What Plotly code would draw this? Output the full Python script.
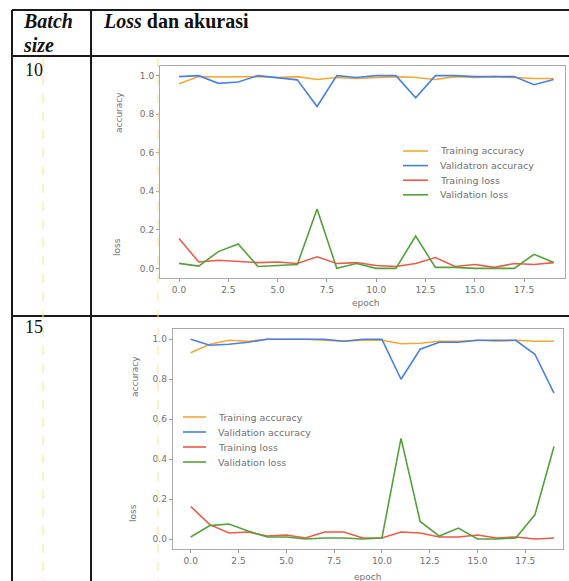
import plotly.graph_objects as go

W, H = 569, 581

epochs = list(range(20))

# Batch size 10
b10_train_acc = [0.958, 0.995, 0.993, 0.995, 0.995, 0.99, 0.995, 0.98, 0.99, 0.985,
                 0.99, 0.995, 0.99, 0.98, 0.995, 0.99, 0.995, 0.99, 0.985, 0.985]
b10_val_acc = [0.995, 1.0, 0.96, 0.967, 1.0, 0.99, 0.978, 0.84, 1.0, 0.99,
               1.0, 1.0, 0.885, 1.0, 1.0, 0.995, 0.995, 0.995, 0.953, 0.98]
b10_train_loss = [0.155, 0.033, 0.042, 0.035, 0.03, 0.033, 0.025, 0.06, 0.025, 0.03,
                  0.015, 0.01, 0.025, 0.056, 0.01, 0.02, 0.005, 0.025, 0.02, 0.03]
b10_val_loss = [0.026, 0.012, 0.087, 0.127, 0.01, 0.015, 0.02, 0.308, 0.0, 0.025,
                0.0, 0.0, 0.168, 0.005, 0.005, 0.0, 0.0, 0.0, 0.073, 0.03]

# Batch size 15
b15_train_acc = [0.933, 0.975, 0.995, 0.99, 1.0, 1.0, 1.0, 0.995, 0.99, 0.995,
                 0.995, 0.978, 0.98, 0.99, 0.99, 0.995, 0.99, 0.995, 0.99, 0.99]
b15_val_acc = [1.0, 0.97, 0.975, 0.985, 1.0, 1.0, 1.0, 1.0, 0.99, 1.0,
               1.0, 0.8, 0.95, 0.985, 0.985, 0.995, 0.995, 0.995, 0.925, 0.73]
b15_train_loss = [0.163, 0.072, 0.03, 0.035, 0.015, 0.02, 0.005, 0.035, 0.035, 0.005,
                  0.005, 0.035, 0.03, 0.01, 0.01, 0.02, 0.005, 0.01, 0.0, 0.005]
b15_val_loss = [0.01, 0.067, 0.075, 0.04, 0.01, 0.01, 0.0, 0.005, 0.005, 0.0,
                0.005, 0.504, 0.088, 0.015, 0.055, 0.0, 0.0, 0.005, 0.121, 0.463]

series_names = ["Training accuracy", "Validation accuracy", "Training loss", "Validation loss"]
legend_names_10 = ["Training accuracy", "Validatron accuracy", "Training loss", "Validation loss"]
colors = ["#f5a832", "#4a80e6", "#ec5a48", "#55a03a"]

x_ticks = [0, 2.5, 5, 7.5, 10, 12.5, 15, 17.5]
x_ticktext = ["0.0", "2.5", "5.0", "7.5", "10.0", "12.5", "15.0", "17.5"]
y_ticks = [0, 0.2, 0.4, 0.6, 0.8, 1.0]
y_ticktext = ["0.0", "0.2", "0.4", "0.6", "0.8", "1.0"]

batch_labels = ["10", "15"]


def px(x):
    return x / W


def py(y):
    return 1 - y / H


fig = go.Figure()

datasets = [
    [b10_train_acc, b10_val_acc, b10_train_loss, b10_val_loss],
    [b15_train_acc, b15_val_acc, b15_train_loss, b15_val_loss],
]
for k, ds in enumerate(datasets):
    xa = "x" if k == 0 else "x2"
    ya = "y" if k == 0 else "y2"
    for s, vals in enumerate(ds):
        fig.add_trace(go.Scatter(x=epochs, y=vals, mode="lines", name=series_names[s],
                                 line=dict(color=colors[s], width=1.6),
                                 xaxis=xa, yaxis=ya, showlegend=False))

tick_font = dict(family="DejaVu Sans", size=9, color="#707070")
axis_common = dict(showgrid=False, zeroline=False, showline=True, linecolor="#aaa",
                   linewidth=1, mirror=True, ticks="outside", ticklen=3,
                   tickcolor="#999", tickfont=tick_font)

# chart frames (pixels)
c1 = dict(l=160, r=565, t=66, b=278, x0=179, x19=553.7)
c2 = dict(l=172.7, r=563, t=329.3, b=549, x0=190.7, x19=554)


def xrange_of(c):
    ppu = (c["x19"] - c["x0"]) / 19
    return [(c["l"] - c["x0"]) / ppu, (c["r"] - c["x0"]) / ppu]


fig.update_layout(
    width=W, height=H, margin=dict(l=0, r=0, t=0, b=0),
    paper_bgcolor="white", plot_bgcolor="white",
    xaxis=dict(domain=[px(c1["l"]), px(c1["r"])], range=xrange_of(c1), anchor="y",
               tickvals=x_ticks, ticktext=x_ticktext, **axis_common),
    yaxis=dict(domain=[py(c1["b"]), py(c1["t"])], range=[-0.05, 1.05], anchor="x",
               tickvals=y_ticks, ticktext=y_ticktext, **axis_common),
    xaxis2=dict(domain=[px(c2["l"]), px(c2["r"])], range=xrange_of(c2), anchor="y2",
                tickvals=x_ticks, ticktext=x_ticktext, **axis_common),
    yaxis2=dict(domain=[py(c2["b"]), py(c2["t"])], range=[-0.05, 1.05], anchor="x2",
                tickvals=y_ticks, ticktext=y_ticktext, **axis_common),
)

shapes = []
ann = []

# table lines
line_black = dict(color="#1a1a1a", width=2)
for (x0, y0, x1, y1) in [(12, 10, 569, 10), (12, 56, 569, 56), (12, 316, 569, 316),
                         (12, 10, 12, 581), (91, 10, 91, 581)]:
    shapes.append(dict(type="line", xref="paper", yref="paper", x0=px(x0), y0=py(y0),
                       x1=px(x1), y1=py(y1), line=line_black))

# faint yellow guide lines from the scan
for xx in [43, 158]:
    shapes.append(dict(type="line", xref="paper", yref="paper", x0=px(xx), y0=py(58),
                       x1=px(xx), y1=py(581), line=dict(color="#f2e48a", width=1, dash="dash")))

serif = "Liberation Serif"
hdr = dict(family=serif, size=20, color="#111")
ann.append(dict(text="<b><i>Batch</i></b>", x=px(21), y=py(21), xanchor="left", yanchor="middle",
                font=hdr))
ann.append(dict(text="<b><i>size</i></b>", x=px(21), y=py(45), xanchor="left", yanchor="middle",
                font=hdr))
ann.append(dict(text="<b><i>Loss</i> dan akurasi</b>", x=px(101), y=py(21), xanchor="left",
                yanchor="middle", font=hdr))
ann.append(dict(text=batch_labels[0], x=px(23), y=py(70), xanchor="left", yanchor="middle",
                font=dict(family=serif, size=18, color="#111")))
ann.append(dict(text=batch_labels[1], x=px(23), y=py(327), xanchor="left", yanchor="middle",
                font=dict(family=serif, size=18, color="#111")))

lab_font = dict(family="DejaVu Sans", size=9, color="#707070")
# axis labels
for (t, x, y, rot) in [("accuracy", 119, 113, -90), ("loss", 117, 247, -90), ("epoch", 365, 303, 0),
                       ("accuracy", 135, 377, -90), ("loss", 133, 513, -90), ("epoch", 367, 577, 0)]:
    ann.append(dict(text=t, x=px(x), y=py(y), xanchor="center", yanchor="middle",
                    textangle=rot, font=lab_font))

# legends
leg_font = dict(family="DejaVu Sans", size=9.5, color="#707070")
legs = [(403, 428, 438, 151, 14.6, legend_names_10), (183, 206, 216, 417, 15, series_names)]
for (lx0, lx1, tx, y0, dy, names) in legs:
    for i, nm in enumerate(names):
        yy = y0 + i * dy
        shapes.append(dict(type="line", xref="paper", yref="paper", x0=px(lx0), x1=px(lx1),
                           y0=py(yy), y1=py(yy), line=dict(color=colors[i], width=1.6)))
        ann.append(dict(text=nm, x=px(tx), y=py(yy), xanchor="left", yanchor="middle",
                        font=leg_font))

for a in ann:
    a.update(xref="paper", yref="paper", showarrow=False)

fig.update_layout(shapes=shapes, annotations=ann)

fig.write_html("out.html", config={"displayModeBar": False},
               post_script="document.body.style.margin='0';")
